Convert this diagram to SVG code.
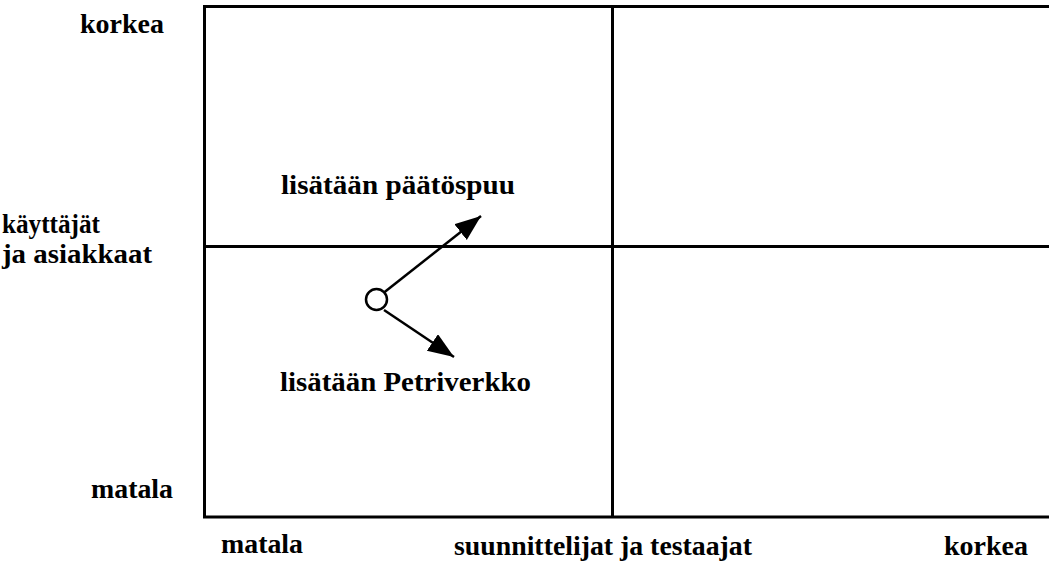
<svg xmlns="http://www.w3.org/2000/svg" width="1049" height="566" viewBox="0 0 1049 566">
<style>
text{font-family:'Liberation Serif',Tinos,'Times New Roman',Times,serif;font-weight:700;font-size:27px;fill:#000}
.ln{stroke:#000;stroke-width:3;fill:none}
.ar{stroke:#000;stroke-width:2.5;fill:none}
</style>
<defs>
<marker id="ah" markerUnits="userSpaceOnUse" markerWidth="30" markerHeight="24" refX="26" refY="10" orient="auto">
<path d="M0,0 L26,10 L0,20 Z" fill="#000"/>
</marker>
</defs>
<rect width="1049" height="566" fill="#fff"/>
<g id="grid">
<path class="ln" d="M1052,6.5 H204.5 V517 H1052"/>
<line class="ln" x1="612.5" y1="6.5" x2="612.5" y2="517"/>
<line class="ln" x1="204.5" y1="246.5" x2="1052" y2="246.5"/>
</g>
<g id="axis-labels">
<text x="80" y="33" textLength="84" lengthAdjust="spacingAndGlyphs">korkea</text>
<text x="2" y="233" textLength="98" lengthAdjust="spacingAndGlyphs">käyttäjät</text>
<text x="2" y="263" textLength="150" lengthAdjust="spacingAndGlyphs">ja asiakkaat</text>
<text x="91" y="498" textLength="82" lengthAdjust="spacingAndGlyphs">matala</text>
<text x="221" y="553" textLength="82" lengthAdjust="spacingAndGlyphs">matala</text>
<text x="454" y="555" textLength="298" lengthAdjust="spacingAndGlyphs">suunnittelijat ja testaajat</text>
<text x="944" y="555" textLength="84" lengthAdjust="spacingAndGlyphs">korkea</text>
</g>
<g id="start-node">
<circle cx="376.5" cy="299.5" r="10.5" fill="#fff" stroke="#000" stroke-width="2.5"/>
</g>
<g id="label-paatospuu">
<text x="281" y="194" textLength="234" lengthAdjust="spacingAndGlyphs">lisätään päätöspuu</text>
</g>
<g id="label-petriverkko">
<text x="280" y="391" textLength="251" lengthAdjust="spacingAndGlyphs">lisätään Petriverkko</text>
</g>
<g id="connectors">
<line class="ar" x1="384" y1="292.5" x2="481" y2="216" marker-end="url(#ah)"/>
<line class="ar" x1="384" y1="310" x2="454" y2="357" marker-end="url(#ah)"/>
</g>
</svg>
